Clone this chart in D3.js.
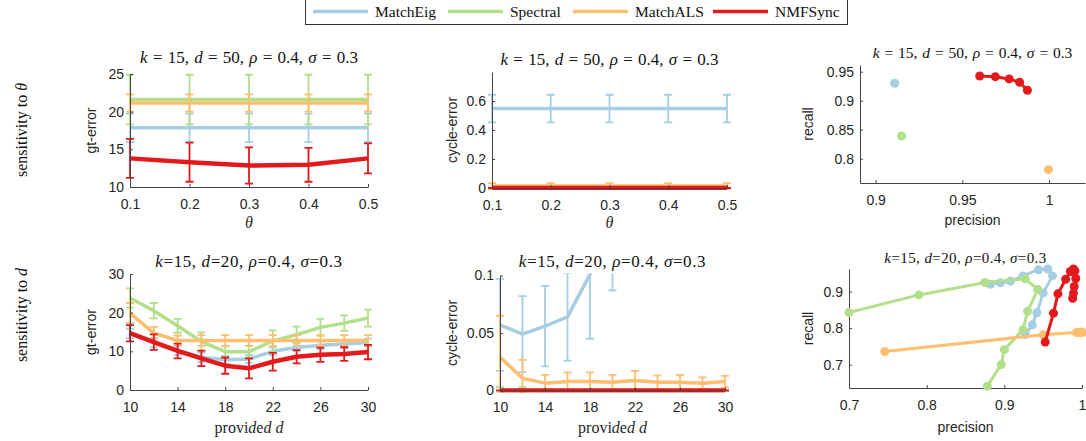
<!DOCTYPE html>
<html>
<head>
<meta charset="utf-8">
<script src="https://cdn.jsdelivr.net/npm/d3@7"></script>
<style>
  body { margin: 0; background: #fff; }
</style>
</head>
<body>
<div id="chart"></div>
<script>
const width = 1086;
const height = 441;

// methods and their colours
const methods = ["MatchEig", "Spectral", "MatchALS", "NMFSync"];
const colors = ["#a6cee3", "#b2df8a", "#fdbf6f", "#e31a1c"];

// ---------- row 1 : sensitivity to theta ----------
const thetas = [0.1, 0.2, 0.3, 0.4, 0.5];
const gtThetaMean = [
  [17.85, 17.85, 17.85, 17.85, 17.85],
  [21.6, 21.6, 21.6, 21.6, 21.6],
  [21.15, 21.15, 21.15, 21.15, 21.15],
  [13.8, 13.3, 12.85, 12.95, 13.8]
];
const gtThetaErr = [
  [1.9, 1.9, 1.9, 1.9, 1.9],
  [3.3, 3.3, 3.3, 3.3, 3.3],
  [1.15, 1.15, 1.15, 1.15, 1.15],
  [2.6, 2.6, 2.4, 2.25, 2.0]
];
const cycThetaMean = [
  [0.548, 0.548, 0.548, 0.548, 0.548],
  [0, 0, 0, 0, 0],
  [0.013, 0.013, 0.013, 0.013, 0.013],
  [0, 0, 0, 0, 0]
];
const cycThetaErr = [
  [0.095, 0.095, 0.095, 0.095, 0.095],
  [0, 0, 0, 0, 0],
  [0.02, 0.02, 0.02, 0.02, 0.02],
  [0, 0, 0, 0, 0]
];
const precTheta = [[0.911], [0.915], [0.9996], [0.960, 0.969, 0.977, 0.983, 0.9875]];
const recTheta = [[0.930], [0.839], [0.781], [0.9426, 0.9414, 0.9375, 0.9318, 0.918]];

// ---------- row 2 : sensitivity to d ----------
const dValues = [10, 12, 14, 16, 18, 20, 22, 24, 26, 28, 30];
const gtDMean = [
  [14.6, 12.3, 10.3, 8.5, 7.8, 8.0, 10.0, 11.0, 11.6, 11.9, 12.3],
  [23.8, 20.5, 16.6, 12.5, 9.9, 9.9, 12.7, 14.3, 16.2, 17.3, 18.6],
  [19.9, 14.7, 12.8, 12.8, 12.8, 12.8, 12.8, 12.8, 12.8, 12.8, 12.8],
  [14.7, 12.4, 10.1, 8.2, 6.3, 5.6, 7.3, 8.6, 9.1, 9.3, 9.8]
];
const gtDErr = [
  [1.2, 1.2, 1.2, 1.2, 1.0, 1.0, 1.0, 1.0, 1.0, 1.0, 1.0],
  [2.5, 2.0, 1.8, 2.4, 1.4, 1.5, 2.7, 2.1, 2.2, 2.0, 2.2],
  [2.6, 1.6, 1.3, 1.4, 1.4, 1.4, 1.4, 1.4, 1.4, 1.4, 1.4],
  [2.1, 2.0, 1.9, 2.0, 2.1, 2.6, 2.3, 1.7, 1.85, 1.75, 1.85]
];
const cycDMean = [
  [0.057, 0.049, 0.056, 0.064, 0.101, 0.145, 0.19, 0.23, 0.26, 0.28, 0.30],
  [0.0005, 0.0005, 0, 0, 0, 0, 0, 0, 0, 0, 0],
  [0.029, 0.0107, 0.0064, 0.0078, 0.0078, 0.0072, 0.0087, 0.0072, 0.0072, 0.0064, 0.0078],
  [0, 0, 0, 0, 0, 0, 0, 0, 0, 0, 0]
];
const cycDErr = [
  [0.04, 0.033, 0.035, 0.038, 0.056, 0.058, 0.06, 0.06, 0.06, 0.06, 0.06],
  [0.0025, 0.0025, 0, 0, 0, 0, 0, 0, 0, 0, 0],
  [0.036, 0.016, 0.0072, 0.008, 0.008, 0.0064, 0.0084, 0.006, 0.0064, 0.005, 0.005],
  [0, 0, 0, 0, 0, 0, 0, 0, 0, 0, 0]
];
const precD = [
  [0.927, 0.936, 0.942, 0.950, 0.962, 0.956, 0.944, 0.924, 0.908, 0.895, 0.882],
  [0.878, 0.896, 0.900, 0.924, 0.930, 0.943, 0.927, 0.875, 0.790, 0.700],
  [0.746, 0.950, 0.993, 0.996, 0.998, 0.999, 0.999, 1.0, 1.0, 1.0, 1.0],
  [0.9526, 0.9633, 0.969, 0.979, 0.985, 0.989, 0.991, 0.992, 0.990, 0.989, 0.988]
];
const recD = [
  [0.782, 0.809, 0.842, 0.896, 0.943, 0.962, 0.960, 0.943, 0.929, 0.924, 0.920],
  [0.641, 0.700, 0.741, 0.796, 0.846, 0.906, 0.935, 0.925, 0.891, 0.843],
  [0.736, 0.782, 0.788, 0.789, 0.789, 0.789, 0.789, 0.789, 0.788, 0.788, 0.788],
  [0.762, 0.841, 0.894, 0.934, 0.955, 0.962, 0.957, 0.936, 0.914, 0.896, 0.882]
];

const sansFont = "'Liberation Sans', Arial, Helvetica, sans-serif";
const serifFont = "'Liberation Serif', 'Times New Roman', serif";
const textColor = "#262626";
const fmt = d3.format("~g");

const svg = d3.select("#chart")
  .append("svg")
  .attr("width", width)
  .attr("height", height)
  .style("display", "block");

let clipCount = 0;

// text with italic math symbols (k, d, rho, sigma, theta)
function mathText(sel, str) {
  str.split(/([kdρσθ])/).filter(s => s.length).forEach(s => {
    sel.append("tspan")
      .attr("font-style", /^[kdρσθ]$/.test(s) ? "italic" : "normal")
      .text(s);
  });
  return sel;
}

function drawAxes(g, x, y, xTicks, yTicks) {
  const xa = g.append("g")
    .attr("transform", `translate(0,${y.range()[0]})`)
    .call(d3.axisBottom(x).tickValues(xTicks).tickFormat(fmt)
      .tickSizeInner(-3).tickSizeOuter(0).tickPadding(12));
  const ya = g.append("g")
    .attr("transform", `translate(${x.range()[0]},0)`)
    .call(d3.axisLeft(y).tickValues(yTicks).tickFormat(fmt)
      .tickSizeInner(-3).tickSizeOuter(0).tickPadding(6));
  [xa, ya].forEach(a => {
    a.attr("font-family", sansFont).attr("font-size", 14);
    a.selectAll("path, line").attr("stroke", "#444").attr("stroke-width", 1);
    a.selectAll("text").attr("fill", textColor);
  });
}

function addLabels(g, cfg) {
  const cx = (cfg.xRange[0] + cfg.xRange[1]) / 2;
  const cy = (cfg.yRange[0] + cfg.yRange[1]) / 2;
  mathText(g.append("text")
    .attr("x", cx).attr("y", cfg.titleY)
    .attr("text-anchor", "middle")
    .attr("font-family", serifFont)
    .attr("font-size", cfg.titleSize)
    .attr("word-spacing", cfg.wordSpacing || 0)
    .attr("letter-spacing", cfg.letterSpacing || 0)
    .attr("fill", "#111"), cfg.title);

  const xl = g.append("text")
    .attr("x", cx).attr("y", cfg.xLabelY)
    .attr("text-anchor", "middle")
    .attr("fill", textColor);
  if (cfg.xLabelSerif) {
    xl.attr("font-family", serifFont).attr("font-size", 16);
    mathText(xl, cfg.xLabel);
  } else {
    xl.attr("font-family", sansFont).attr("font-size", 14).text(cfg.xLabel);
  }

  g.append("text")
    .attr("transform", `translate(${cfg.yLabelX},${cy}) rotate(-90)`)
    .attr("text-anchor", "middle")
    .attr("font-family", sansFont)
    .attr("font-size", 14)
    .attr("fill", textColor)
    .text(cfg.yLabel);
}

function makeClip(cfg) {
  const id = "clip" + (clipCount++);
  svg.append("clipPath").attr("id", id)
    .append("rect")
    .attr("x", cfg.xRange[0] - 10)
    .attr("width", cfg.xRange[1] - cfg.xRange[0] + 20)
    .attr("y", cfg.yRange[1] - 2)
    .attr("height", cfg.yRange[0] - cfg.yRange[1] + 4);
  return id;
}

// line + error bar panel
function errPanel(cfg) {
  const x = d3.scaleLinear().domain(cfg.xDomain).range(cfg.xRange);
  const y = d3.scaleLinear().domain(cfg.yDomain).range(cfg.yRange);
  const g = svg.append("g");
  const clipId = makeClip(cfg);
  const plot = g.append("g").attr("clip-path", `url(#${clipId})`);

  cfg.mean.forEach((m, k) => {
    const err = cfg.err[k];
    const s = plot.append("g").attr("stroke", colors[k]).attr("fill", "none");
    s.selectAll("path.bar")
      .data(m)
      .join("path")
      .attr("class", "bar")
      .attr("d", (v, i) => {
        const xi = x(cfg.xs[i]), hi = y(v + err[i]), lo = y(v - err[i]);
        return `M${xi - 4},${hi}H${xi + 4}M${xi},${hi}V${lo}M${xi - 4},${lo}H${xi + 4}`;
      })
      .attr("stroke-width", 1.8);
    s.append("path")
      .datum(m)
      .attr("d", d3.line().x((v, i) => x(cfg.xs[i])).y(v => y(v)))
      .attr("stroke-width", k === 3 ? 4.5 : 3.5)
      .attr("stroke-linejoin", "round");
  });

  drawAxes(g, x, y, cfg.xTicks, cfg.yTicks);
  addLabels(g, cfg);
}

// precision / recall panel
function prPanel(cfg) {
  const x = d3.scaleLinear().domain(cfg.xDomain).range(cfg.xRange);
  const y = d3.scaleLinear().domain(cfg.yDomain).range(cfg.yRange);
  const g = svg.append("g");

  drawAxes(g, x, y, cfg.xTicks, cfg.yTicks);

  cfg.prec.forEach((p, k) => {
    const r = cfg.rec[k];
    const pts = p.map((v, i) => [x(v), y(r[i])]);
    if (pts.length > 1) {
      g.append("path")
        .datum(pts)
        .attr("d", d3.line())
        .attr("fill", "none")
        .attr("stroke", colors[k])
        .attr("stroke-width", 3)
        .attr("stroke-linejoin", "round");
    }
    g.selectAll(null)
      .data(pts)
      .join("circle")
      .attr("cx", d => d[0])
      .attr("cy", d => d[1])
      .attr("r", 4.5)
      .attr("fill", colors[k]);
  });

  addLabels(g, cfg);
}

// ---------- row 1 ----------
errPanel({
  xs: thetas, mean: gtThetaMean, err: gtThetaErr,
  xDomain: [0.1, 0.5], xRange: [130, 368],
  yDomain: [10, 25], yRange: [187, 74],
  xTicks: thetas, yTicks: [10, 15, 20, 25],
  title: "k = 15, d = 50, ρ = 0.4, σ = 0.3", titleY: 63, titleSize: 17, wordSpacing: 1,
  xLabel: "θ", xLabelSerif: true, xLabelY: 228,
  yLabel: "gt-error", yLabelX: 96
});

errPanel({
  xs: thetas, mean: cycThetaMean, err: cycThetaErr,
  xDomain: [0.1, 0.5], xRange: [492, 727],
  yDomain: [0, 0.8], yRange: [188, 72],
  xTicks: thetas, yTicks: [0, 0.2, 0.4, 0.6],
  title: "k = 15, d = 50, ρ = 0.4, σ = 0.3", titleY: 65, titleSize: 17, wordSpacing: 1,
  xLabel: "θ", xLabelSerif: true, xLabelY: 228,
  yLabel: "cycle-error", yLabelX: 457
});

prPanel({
  prec: precTheta, rec: recTheta,
  xDomain: [0.891, 1.0207], xRange: [860, 1085],
  yDomain: [0.758, 0.9615], yRange: [183, 65],
  xTicks: [0.9, 0.95, 1], yTicks: [0.8, 0.85, 0.9, 0.95],
  title: "k = 15, d = 50, ρ = 0.4, σ = 0.3", titleY: 58, titleSize: 15.5, wordSpacing: 1,
  xLabel: "precision", xLabelY: 225,
  yLabel: "recall", yLabelX: 813
});

// ---------- row 2 ----------
errPanel({
  xs: dValues, mean: gtDMean, err: gtDErr,
  xDomain: [10, 30], xRange: [130, 368],
  yDomain: [0, 30], yRange: [390, 274],
  xTicks: [10, 14, 18, 22, 26, 30], yTicks: [0, 10, 20, 30],
  title: "k=15, d=20, ρ=0.4, σ=0.3", titleY: 267, titleSize: 17, letterSpacing: 0.6,
  xLabel: "provided d", xLabelSerif: true, xLabelY: 433,
  yLabel: "gt-error", yLabelX: 96
});

errPanel({
  xs: dValues, mean: cycDMean, err: cycDErr,
  xDomain: [10, 30], xRange: [500, 725],
  yDomain: [0, 0.1], yRange: [390.5, 275.5],
  xTicks: [10, 14, 18, 22, 26, 30], yTicks: [0, 0.05, 0.1],
  title: "k=15, d=20, ρ=0.4, σ=0.3", titleY: 267, titleSize: 17, letterSpacing: 0.6,
  xLabel: "provided d", xLabelSerif: true, xLabelY: 433,
  yLabel: "cycle-error", yLabelX: 457
});

prPanel({
  prec: precD, rec: recD,
  xDomain: [0.7, 1.0], xRange: [849, 1082],
  yDomain: [0.636, 0.962], yRange: [388, 269],
  xTicks: [0.7, 0.8, 0.9, 1], yTicks: [0.7, 0.8, 0.9],
  title: "k=15, d=20, ρ=0.4, σ=0.3", titleY: 263, titleSize: 15, letterSpacing: 0.4,
  xLabel: "precision", xLabelY: 432,
  yLabel: "recall", yLabelX: 813
});

// ---------- row labels ----------
[["sensitivity to θ", 130], ["sensitivity to d", 315]].forEach(([txt, cy]) => {
  mathText(svg.append("text")
    .attr("transform", `translate(27,${cy}) rotate(-90)`)
    .attr("text-anchor", "middle")
    .attr("font-family", serifFont)
    .attr("font-size", 16)
    .attr("fill", "#111"), txt);
});

// ---------- legend ----------
const legend = svg.append("g");
legend.append("rect")
  .attr("x", 305.5).attr("y", -1)
  .attr("width", 542).attr("height", 25.5)
  .attr("fill", "#fff")
  .attr("stroke", "#333")
  .attr("stroke-width", 1);
const legendX = [313, 448, 573, 713];
methods.forEach((name, k) => {
  legend.append("line")
    .attr("x1", legendX[k]).attr("x2", legendX[k] + 55)
    .attr("y1", 11.5).attr("y2", 11.5)
    .attr("stroke", colors[k])
    .attr("stroke-width", 3.5);
  legend.append("text")
    .attr("x", legendX[k] + 62).attr("y", 16.5)
    .attr("font-family", serifFont)
    .attr("font-size", 15.5)
    .attr("fill", "#111")
    .text(name);
});
</script>
</body>
</html>
